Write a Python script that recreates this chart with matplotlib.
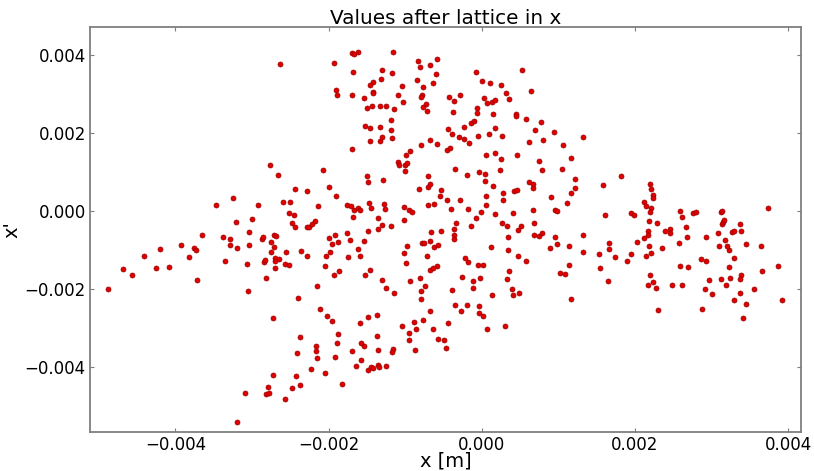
import numpy as np
import matplotlib
matplotlib.use("Agg")
import matplotlib.pyplot as plt

# particle coordinates after the lattice (units of 1e-3)
x_mm = [
    -2.633, 1.318,
    # upper middle
    -1.928, -1.701, -1.675, -1.614, -1.166, -0.836, -0.579, -0.805, -0.679, -1.684,
    -1.301, -1.175, -0.601, -1.310, -1.419, -1.458, -0.849, -0.640, -1.040, -0.766,
    -1.910, -1.893, -1.697, -1.423, -1.423, -1.532, -1.097, -0.783, -0.792, -1.031,
    -1.493, -1.440, -1.332, -1.249, -1.149, -0.770, -0.727, -0.714, -1.188, -1.519,
    -1.458, -1.336, -1.184, -1.301, -1.175, -1.462, -1.332, -1.693, -0.792, -0.683,
    -0.587, -0.936, -0.992, -0.422, -0.283, -0.357, -0.379, -0.444, -0.383, -0.300,
    -0.235, -0.239, -0.161, -0.135, -0.100, -0.048, -0.457, -0.418, -0.078, 0.000,
    0.113, 0.248, 0.318, 0.357, 0.035, 0.074, 0.135, 0.174, -0.061, -0.065,
    0.152, 0.170, 0.100, 0.265, 0.052, 0.174, 0.252, 0.531, 0.648, 0.448,
    0.448, 0.583, 0.779, 0.692, 0.801, 0.622, 0.944, 1.057, 0.453, 0.744,
    1.162,
    # left middle
    -2.768, -2.659, -2.080, -2.441, -2.285, -1.997, -3.255, -3.473, -2.924, -2.602,
    -2.507, -2.137, -2.515, -2.446, -2.480, -2.433, -3.212, -2.998, -2.285, -2.254,
    -2.215, -2.176, -3.651, -3.381, -3.290, -3.294, -3.194, -3.042, -3.037, -2.876,
    -2.855, -2.755, -2.716, -2.685, -2.720, -2.755, -2.555, -2.363, -2.280, -1.989,
    -1.980, -2.033, -2.046, -3.925, -3.760, -3.738, -3.821, -4.208, -4.417, -4.682,
    -4.573, -4.256, -4.086, -4.882, -3.721, -3.072, -3.355, -2.846, -2.833, -2.698,
    -2.650, -2.702, -2.698, -2.572, -2.524, -2.824, -3.050, -2.158,
    # lower left
    -2.406, -2.115, -2.024, -2.733, -2.376, -2.163, -2.167, -2.158, -2.415, -2.224,
    -2.050, -2.724, -2.428, -2.794, -2.476, -2.372, -2.824, -2.785, -3.090, -2.572,
    -3.194,
    # lower middle
    -0.788, -0.348, -0.187, -0.039, 1.162, -1.962, -1.588, -1.488, -1.366, -0.679,
    -0.270, -0.035, 0.013, 0.300, 0.065, -0.444, -0.766, -0.879, -1.044, -0.857,
    -0.953, -0.953, -0.635, -0.570, -0.496, -0.470, -0.875, -1.876, -1.889, -1.371,
    -1.580, -1.536, -1.701, -1.919, -1.362, -1.166, -1.179, -1.580, -1.645, -1.484,
    -1.453, -1.427, -1.358, -1.349, -1.253, -1.832,
    # lower right
    2.298, 2.872, 3.290, 3.451, 3.416, 3.921,
    # right middle
    1.214, 1.223, 1.819, 1.584, 1.606, 1.327, 1.318, 1.662, 1.658, 1.527,
    1.745, 1.540, 1.645, 1.893, 1.945, 1.945, 1.984, 2.193, 2.206, 2.241,
    2.241, 2.123, 2.149, 2.210, 2.193, 2.189, 2.285, 2.171, 2.175, 2.115,
    2.028, 2.184, 2.215, 2.149, 2.350, 2.389, 2.454, 2.454, 2.585, 2.611,
    2.667, 2.676, 2.572, 2.763, 2.802, 2.193, 2.241, 2.171, 2.271, 2.480,
    2.619, 2.589, 2.689, 2.868, 2.929, 2.924, 3.081, 3.094, 3.125, 3.138,
    3.142, 3.155, 3.168, 3.172, 3.198, 3.229, 3.272, 3.298, 3.372, 3.386,
    3.451, 3.290, 3.225, 3.386, 3.372, 3.238, 3.129, 3.194, 2.963, 2.915,
    3.011, 3.372, 3.559, 3.664, 3.642, 3.734, 3.869,
    # centre
    -1.093, -1.080, -0.997, -0.971, -1.005, -1.501, -1.288, -1.480, -1.906, -1.754,
    -1.706, -1.675, -1.623, -1.593, -1.684, -1.475, -1.441, -1.275, -1.258, -1.362,
    -1.301, -1.188, -1.362, -1.480, -1.754, -1.919, -1.962, -1.875, -1.723, -1.532,
    -1.619, -1.745, -1.593, -1.871, -1.928, -1.527, -1.458, -1.305, -1.249, -1.144,
    -1.014, -0.953, -0.909, -1.014, -0.818, -0.705, -0.709, -0.679, -0.709, -0.627,
    -0.535, -0.544, -0.457, -0.405, -0.344, -0.187, -0.035, 0.044, 0.048, 0.144,
    0.244, -0.287, -0.178, 0.052, 0.061, -0.009, -0.078, 0.170, -0.335, -0.139,
    -0.366, -0.357, -0.366, -0.527, -0.657, -0.683, -0.779, -0.749, -0.627, -0.566,
    -0.975, -1.010, -0.984, -0.722, -0.683, -0.635, -0.579, -0.940, -0.809, -0.744,
    -0.796, -0.383, -0.265, -0.218, -0.183, -0.052, 0.017, -0.026, -0.117, -0.117,
    0.122, 0.265, 0.274, 0.283, 0.331, 0.348, 0.344, 0.405, 0.426, 0.453,
    0.614, 0.670, 0.666, 0.792, 1.044, 0.901, 1.166, 1.114, 0.666, 0.953,
    0.979, 0.679, 0.513, 0.479, 0.683, 0.748, 0.783, 0.953, 0.979, 0.892,
    1.140, 0.470, 0.579, 1.136, 1.023, 1.092, 0.352, 0.331, 0.400, 0.483,
    0.131, 0.409,
]

xp_mrad = [
    3.777, 1.905,
    # upper middle
    3.80, 4.05, 4.03, 4.09, 4.09, 3.85, 3.91, 3.70, 3.74, 3.56,
    3.63, 3.54, 3.53, 3.40, 3.32, 3.23, 3.36, 3.28, 3.21, 3.18,
    3.12, 2.98, 2.97, 3.06, 3.03, 2.90, 2.97, 2.99, 2.94, 2.79,
    2.65, 2.70, 2.71, 2.71, 2.62, 2.68, 2.74, 2.56, 2.35, 2.18,
    2.14, 2.16, 2.07, 1.91, 1.87, 1.79, 1.80, 1.59, 1.71, 1.83,
    1.72, 1.54, 1.44, 2.93, 2.99, 2.82, 2.55, 2.10, 1.97, 1.90,
    2.15, 1.84, 1.74, 2.26, 2.31, 1.92, 1.58, 1.63, 3.56, 3.34,
    3.29, 3.24, 3.03, 2.88, 2.91, 2.78, 2.79, 2.84, 2.64, 2.52,
    2.49, 2.14, 1.99, 1.93, 1.43, 1.48, 1.35, 3.61, 3.09, 2.50,
    2.44, 2.37, 2.29, 2.08, 1.83, 1.77, 2.04, 1.70, 1.45, 1.28,
    1.37,
    # left middle
    1.197, 0.923, 1.068, 0.581, 0.521, 0.615, 0.342, 0.154, 0.154, 0.239,
    0.239, 0.145, -0.051, -0.111, -0.316, -0.419, -0.274, -0.205, -0.402, -0.419,
    -0.333, -0.265, -0.607, -0.650, -0.709, -0.872, -0.957, -0.547, -0.880, -0.718,
    -0.675, -0.786, -0.615, -0.641, -0.923, -1.043, -1.051, -1.034, -1.162, -0.701,
    -1.060, -1.145, -1.410, -0.880, -0.940, -1.000, -1.171, -0.966, -1.145, -1.496,
    -1.650, -1.470, -1.427, -1.991, -1.769, -1.350, -1.291, -1.299, -1.265, -1.214,
    -1.239, -1.274, -1.453, -1.350, -1.385, -1.726, -2.060, -1.915,
    # lower left
    -2.239, -2.513, -2.701, -2.752, -3.240, -3.470, -3.590, -3.761, -3.633, -4.052,
    -4.146, -4.197, -4.231, -4.505, -4.547, -4.470, -4.701, -4.675, -4.659, -4.821,
    -5.402,
    # lower middle
    -2.248, -2.419, -2.402, -2.436, -2.248, -2.821, -2.872, -2.709, -2.658, -2.564,
    -2.564, -2.624, -2.701, -2.957, -3.026, -2.863, -2.803, -2.855, -2.957, -3.026,
    -3.120, -3.299, -3.026, -3.291, -3.308, -3.521, -3.564, -3.145, -3.393, -3.197,
    -3.393, -3.470, -3.598, -3.735, -3.573, -3.538, -3.607, -3.812, -3.966, -4.077,
    -4.000, -4.017, -3.940, -4.000, -3.966, -4.436,
    # lower right
    -2.547, -2.521, -2.274, -2.393, -2.744, -2.274,
    # right middle
    0.821, 0.598, 0.915, 0.667, -0.094, -0.615, -1.051, -0.829, -0.974, -1.103,
    -1.171, -1.453, -1.803, -1.274, -1.103, -0.043, -0.111, 0.709, 0.573, 0.427,
    0.333, 0.239, 0.120, 0.077, -0.026, -0.248, -0.291, -0.504, -0.615, -0.684,
    -0.786, -0.906, -1.077, -1.162, -0.957, -0.513, -0.462, -0.573, 0.017, -0.162,
    -0.410, -0.675, -0.812, -0.051, -0.026, -1.650, -1.812, -1.906, -1.983, -1.889,
    -1.897, -1.419, -1.444, -1.222, -1.282, -0.675, -0.564, -0.897, -0.009, 0.017,
    -0.333, -0.282, -0.239, -0.735, -0.889, -1.000, -0.530, -0.504, -0.333, -0.521,
    -0.855, -1.214, -1.436, -1.632, -1.752, -1.726, -1.752, -1.906, -1.769, -2.000,
    -2.128, -2.111, -2.000, -1.547, -0.906, 0.085, -1.410,
    # centre
    1.272, 1.187, 1.187, 1.246, 1.043, 0.915, 0.812, 0.744, 0.385, 0.154,
    0.120, 0.026, 0.094, 0.026, -0.145, 0.222, 0.085, 0.188, 0.060, -0.188,
    -0.359, -0.368, -0.453, -0.513, -0.556, -0.624, -0.846, -0.803, -0.744, -0.778,
    -0.966, -1.171, -1.154, -1.530, -1.650, -1.641, -1.521, -1.778, -1.983, -2.111,
    0.111, 0.026, -0.026, -0.231, 0.556, 0.897, 0.632, 0.701, 0.171, 0.179,
    0.538, 0.393, 0.291, 0.043, 1.085, 0.932, 1.017, 0.949, 0.778, 0.641,
    1.051, 0.291, 0.051, 0.402, 0.171, -0.009, -0.171, -0.060, -0.308, -0.385,
    -0.470, -0.615, -0.709, -0.521, -0.538, -0.761, -0.829, -0.821, -0.915, -0.880,
    -0.889, -1.085, -1.325, -1.154, -1.521, -1.453, -1.419, -1.786, -1.718, -1.923,
    -2.043, -2.017, -1.684, -1.197, -1.316, -1.376, -1.393, -1.709, -1.786, -1.966,
    -0.932, -0.291, 0.470, 0.299, -0.368, -0.667, -0.991, -0.043, 0.513, 0.538,
    0.744, 0.701, 0.607, 1.051, 1.077, 0.368, 0.462, 0.214, 0.034, 0.026,
    0.000, -0.308, -0.385, -0.479, -0.607, -0.641, -0.556, -0.658, -0.855, -0.940,
    -0.906, -1.145, -1.274, -1.393, -1.590, -1.607, -1.530, -1.752, -2.009, -2.103,
    -2.162, -2.154,
]

x_ticks = [-0.004, -0.002, 0.000, 0.002, 0.004]
y_ticks = [-0.004, -0.002, 0.000, 0.002, 0.004]

x = np.array(x_mm) * 1e-3
xp = np.array(xp_mrad) * 1e-3

fig = plt.figure(figsize=(8.14, 4.71), dpi=100)
ax = fig.add_axes([0.1106, 0.0834, 0.8738, 0.8599])

ax.plot(x, xp, 'o', color='#e00000', markersize=3.6,
        markeredgecolor='#990000', markeredgewidth=0.5)

ax.set_xlim(-0.005116, 0.004172)
ax.set_ylim(-0.005659, 0.004733)
ax.set_xticks(x_ticks)
ax.set_yticks(y_ticks)
ax.set_xticklabels([f"{t:.3f}".replace("-", "\u2212") for t in x_ticks])
ax.set_yticklabels([f"{t:.3f}".replace("-", "\u2212") for t in y_ticks])

for s in ax.spines.values():
    s.set_color('#7f7f7f')
    s.set_linewidth(1.3)
ax.tick_params(direction='in', top=True, right=True, length=3,
               color='#7f7f7f', labelsize=12, pad=3)

ax.set_title("Values after lattice in x", fontsize=14.4, pad=2)
ax.set_xlabel("x [m]", fontsize=14, labelpad=-2)
ax.set_ylabel("x'", fontsize=14, labelpad=2)

fig.savefig("out.png", dpi=100)
